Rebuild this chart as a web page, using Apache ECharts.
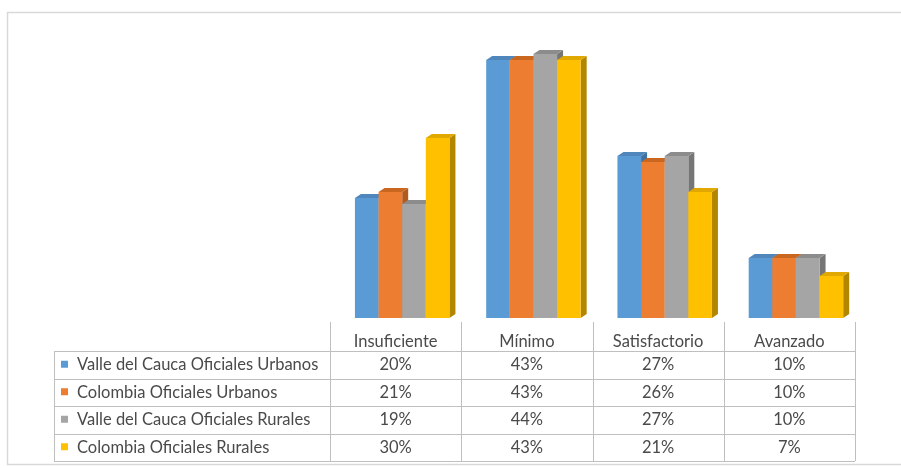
<!DOCTYPE html>
<html><head><meta charset="utf-8">
<script src="https://cdn.jsdelivr.net/npm/echarts@6/dist/echarts.min.js"></script>
<style>html,body{margin:0;padding:0;background:#fff}#c{width:901px;height:468px}</style>
</head><body><div id="c"></div>
<script>
const categories = ['Insuficiente', 'Mínimo', 'Satisfactorio', 'Avanzado'];
const seriesNames = ['Valle del Cauca Oficiales Urbanos', 'Colombia Oficiales Urbanos', 'Valle del Cauca Oficiales Rurales', 'Colombia Oficiales Rurales'];
const valleUrbanos = [20, 43, 27, 10];
const colombiaUrbanos = [21, 43, 26, 10];
const valleRurales = [19, 44, 27, 10];
const colombiaRurales = [30, 43, 21, 7];
const tableLabels = [
  ['20%', '43%', '27%', '10%'],
  ['21%', '43%', '26%', '10%'],
  ['19%', '44%', '27%', '10%'],
  ['30%', '43%', '21%', '7%']
];

const allValues = [valleUrbanos, colombiaUrbanos, valleRurales, colombiaRurales];
const fronts = ['#5B9BD5', '#ED7D31', '#A5A5A5', '#FFC000'];
const sides = ['#3F73A3', '#B05A1E', '#767676', '#B38600'];
const tops = ['#4F87BC', '#C9661F', '#8C8C8C', '#E0A800'];
const FONT = 'Lato';
const FS = 16.5;
const TXT = '#4A4A4A';
const LINE = '#BFBFBF';

const chart = echarts.init(document.getElementById('c'), null, {renderer: 'canvas'});

function barRender(si) {
  return function (params, api) {
    const ci = api.value(0);
    const v = api.value(1);
    const base = api.coord([ci, 0]);
    const topP = api.coord([ci, v]);
    const bw = api.size([1, 0])[0];
    const start = base[0] - bw / 2;
    const w = bw * 0.18;
    const x0 = start + bw * 0.19 + si * w;
    const y0 = base[1], y1 = topP[1];
    const dx = 6, dy = 4;
    return {
      type: 'group',
      children: [
        {type: 'polygon', shape: {points: [[x0 + w, y1], [x0 + w + dx, y1 - dy], [x0 + w + dx, y0 - dy], [x0 + w, y0]]}, style: {fill: sides[si]}},
        {type: 'polygon', shape: {points: [[x0, y1], [x0 + dx, y1 - dy], [x0 + w + dx, y1 - dy], [x0 + w, y1]]}, style: {fill: tops[si]}},
        {type: 'rect', shape: {x: x0, y: y1, width: w, height: y0 - y1}, style: {fill: fronts[si]}}
      ]
    };
  };
}

function tableRender(params, api) {
  const row = api.value(0); // -1 header lines, 0..3 rows
  const base = api.coord([0, 0]);
  const bw = api.size([1, 0])[0];
  const left0 = base[0] - bw / 2;
  const right = api.coord([categories.length - 1, 0])[0] + bw / 2;
  const tableLeft = 54;
  const headerTop = base[1] + 4;
  const rowTop = base[1] + 33;
  const rowH = 27.5;
  const children = [];
  if (row < 0) {
    for (let c = 0; c <= categories.length; c++) {
      const x = Math.round(left0 + c * bw) + 0.5;
      children.push({type: 'line', shape: {x1: x, y1: headerTop, x2: x, y2: rowTop + 4 * rowH}, style: {stroke: LINE, lineWidth: 1}});
    }
    for (let r = 0; r <= 4; r++) {
      const y = Math.round(rowTop + r * rowH) + 0.5;
      children.push({type: 'line', shape: {x1: tableLeft, y1: y, x2: right, y2: y}, style: {stroke: LINE, lineWidth: 1}});
    }
    const xl = tableLeft + 0.5;
    children.push({type: 'line', shape: {x1: xl, y1: rowTop, x2: xl, y2: rowTop + 4 * rowH}, style: {stroke: LINE, lineWidth: 1}});
    return {type: 'group', children: children};
  }
  const cy = rowTop + row * rowH + rowH / 2;
  children.push({type: 'rect', shape: {x: tableLeft + 7, y: cy - 4, width: 7, height: 7}, style: {fill: fronts[row]}});
  children.push({type: 'text', style: {text: seriesNames[row], x: tableLeft + 23, y: cy, textVerticalAlign: 'middle', verticalAlign: 'middle', fill: TXT, font: FS + 'px ' + FONT}});
  for (let c = 0; c < categories.length; c++) {
    const cx = api.coord([c, 0])[0];
    children.push({type: 'text', style: {text: tableLabels[row][c], x: cx, y: cy, align: 'center', textAlign: 'center', verticalAlign: 'middle', textVerticalAlign: 'middle', fill: TXT, font: FS + 'px ' + FONT}});
  }
  return {type: 'group', children: children};
}

const series = allValues.map(function (vals, si) {
  return {
    type: 'custom',
    name: seriesNames[si],
    renderItem: barRender(si),
    data: vals.map(function (v, i) { return [i, v]; }),
    encode: {x: 0, y: 1},
    clip: false
  };
});
series.push({
  type: 'custom',
  name: 'table',
  renderItem: tableRender,
  data: [[-1, 0], [0, 0], [1, 0], [2, 0], [3, 0]],
  encode: {x: -1, y: -1},
  clip: false,
  silent: true
});

chart.setOption({
  animation: false,
  backgroundColor: '#fff',
  graphic: [{type: 'rect', shape: {x: 7.5, y: 12.5, width: 900, height: 452}, style: {fill: 'none', stroke: '#D9D9D9', lineWidth: 1.5}}],
  grid: {left: 330, right: 46, top: 18, bottom: 150},
  xAxis: {
    type: 'category', data: categories,
    axisLine: {show: false}, axisTick: {show: false},
    axisLabel: {show: true, margin: 15, fontFamily: FONT, fontSize: FS, color: TXT}
  },
  yAxis: {type: 'value', min: 0, max: 50, show: false},
  series: series
});
</script></body></html>
